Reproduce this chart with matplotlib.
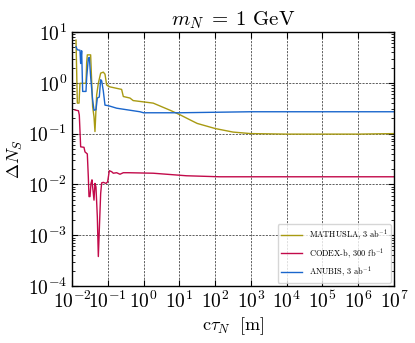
import numpy as np
import matplotlib
matplotlib.use("Agg")
import matplotlib.pyplot as plt

plt.rcParams['mathtext.fontset'] = 'cm'
plt.rcParams['font.family'] = ['cmr10', 'DejaVu Serif']
plt.rcParams['axes.formatter.use_mathtext'] = True

# log10(c tau [m]) and log10(Delta N_S)
mathusla_lx = [-1.888, -1.851, -1.804, -1.777, -1.609, -1.590, -1.572, -1.479, -1.423, -1.385,
               -1.358, -1.311, -1.264, -1.199, -1.125, -1.078, -1.032, -1.000, -0.939, -0.613,
               -0.566, -0.380, -0.29, 0.27, 0.74, 1.02, 1.30, 1.5, 2.0, 2.5, 3.0, 4.0, 5.0, 6.0, 7.0]
mathusla_ly = [0.84, -0.40, -0.40, -0.01, -0.01, 0.40, 0.55, 0.55, -0.47, -0.67,
               -0.96, -0.24, -0.01, 0.19, 0.21, 0.17, -0.04, -0.06, -0.08, -0.13,
               -0.27, -0.30, -0.35, -0.40, -0.54, -0.63, -0.73, -0.80, -0.90, -0.97, -1.00, -1.01, -1.01, -1.01, -1.00]

anubis_lx = [-1.888, -1.851, -1.777, -1.758, -1.730, -1.702, -1.609, -1.590, -1.544, -1.516,
             -1.479, -1.423, -1.385, -1.330, -1.292, -1.237, -1.199, -1.171, -1.125, -1.078,
             -0.985, -0.752, -0.380, -0.10, 0.0, 1.0, 2.0, 3.0, 4.0, 5.0, 6.0, 7.0]
anubis_ly = [0.71, 0.65, 0.64, 0.38, 0.63, -0.17, -0.17, 0.10, 0.48, 0.50,
             0.12, -0.34, -0.54, -0.53, -0.30, -0.28, 0.06, 0.04, -0.16, -0.44,
             -0.45, -0.50, -0.54, -0.57, -0.59, -0.59, -0.58, -0.57, -0.57, -0.57, -0.57, -0.57]

codex_lx = [-1.916, -1.82, -1.796, -1.758, -1.665, -1.637, -1.572, -1.544, -1.525, -1.497,
            -1.469, -1.441, -1.423, -1.385, -1.358, -1.330, -1.292, -1.264, -1.237, -1.199,
            -1.171, -1.125, -1.050, -1.004, -0.957, -0.892, -0.845, -0.752, -0.659, -0.566,
            -0.426, 0.27, 1.20, 2.13, 3.0, 4.0, 5.0, 6.0, 7.0]
codex_ly = [-0.535, -0.55, -0.634, -1.26, -1.27, -1.36, -1.40, -1.85, -2.24, -2.24,
            -1.98, -1.91, -2.05, -2.31, -1.98, -2.05, -2.64, -3.42, -2.90, -2.18,
            -1.97, -1.96, -1.98, -1.95, -1.73, -1.75, -1.78, -1.77, -1.80, -1.77,
            -1.77, -1.78, -1.83, -1.85, -1.85, -1.85, -1.85, -1.85, -1.85]

labels = [r'MATHUSLA, 3 ab$^{-1}$', r'CODEX-b, 300 fb$^{-1}$', r'ANUBIS, 3 ab$^{-1}$']
colors = ['#a89a12', '#c20a4a', '#1a66cc']

fig = plt.figure(figsize=(4.15, 3.43), dpi=100)
ax = fig.add_axes([72/415, 1-286/343, 322/415, 254/343])

ax.plot(10**np.array(mathusla_lx), 10**np.array(mathusla_ly), color=colors[0], lw=1.0, label=labels[0])
ax.plot(10**np.array(codex_lx), 10**np.array(codex_ly), color=colors[1], lw=1.0, label=labels[1])
ax.plot(10**np.array(anubis_lx), 10**np.array(anubis_ly), color=colors[2], lw=1.0, label=labels[2])

ax.set_xscale('log')
ax.set_yscale('log')
ax.set_xlim(1e-2, 1e7)
ax.set_ylim(1e-4, 1e1)
ax.set_xticks([10.0**k for k in range(-2, 8)])
ax.set_yticks([10.0**k for k in range(-4, 2)])
ax.grid(True, which='major', ls=(0, (2.5, 1.5)), color='#444444', lw=0.6)
ax.tick_params(which='both', direction='in', top=True, right=True, labelsize=14)
ax.tick_params(which='major', length=4)
ax.tick_params(which='minor', length=2)
for s in ax.spines.values():
    s.set_linewidth(1.0)

ax.set_title(r'$m_N\;=\;1\ \mathrm{GeV}$', fontsize=15, pad=5)
ax.set_xlabel(r'$\mathrm{c}\tau_N\ \ [\mathrm{m}]$', fontsize=13, labelpad=2)
ax.set_ylabel(r'$\Delta N_S$', fontsize=13, labelpad=2)

ax.legend(loc='lower right', fontsize=6, frameon=True, framealpha=0.8,
          borderaxespad=0.4, handlelength=2.5)

fig.savefig('out.png', dpi=100)
